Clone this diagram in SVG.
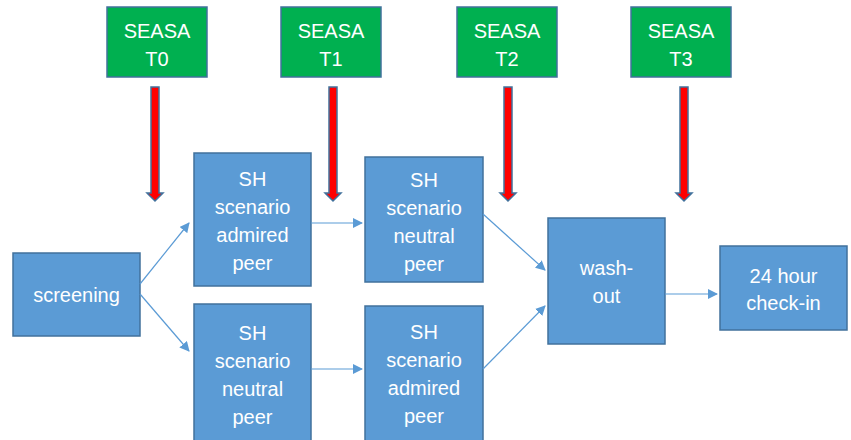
<svg xmlns="http://www.w3.org/2000/svg" width="851" height="440" viewBox="0 0 851 440">
<style>
.box{fill:#5B9BD5;stroke:#41719C;stroke-width:1.5}
.gbox{fill:#00B050;stroke:#41719C;stroke-width:1.5}
.t{font-family:"Liberation Sans",Arial,sans-serif;font-size:20px;fill:#fff;text-anchor:middle}
.c{stroke:#5B9BD5;stroke-width:1.2;fill:none;marker-end:url(#ah)}
.red{fill:#FF0000;stroke:#41719C;stroke-width:1.5}
</style>
<defs>
<marker id="ah" markerWidth="10" markerHeight="10" refX="9" refY="5" orient="auto" markerUnits="userSpaceOnUse" viewBox="0 0 10 10">
<path d="M0,0 L10,5 L0,10 Z" fill="#5B9BD5"/>
</marker>
</defs>
<rect width="851" height="440" fill="#fff"/>
<g id="seasa-t0"><rect class="gbox" x="107" y="7" width="100" height="70"/><text class="t" x="157" y="38">SEASA</text><text class="t" x="157" y="66">T0</text></g>
<g id="seasa-t1"><rect class="gbox" x="281" y="7" width="100" height="70"/><text class="t" x="331" y="38">SEASA</text><text class="t" x="331" y="66">T1</text></g>
<g id="seasa-t2"><rect class="gbox" x="457" y="7" width="100" height="70"/><text class="t" x="507" y="38">SEASA</text><text class="t" x="507" y="66">T2</text></g>
<g id="seasa-t3"><rect class="gbox" x="631" y="7" width="100" height="70"/><text class="t" x="681" y="38">SEASA</text><text class="t" x="681" y="66">T3</text></g>
<g id="screening"><rect class="box" x="13" y="253" width="127" height="83"/><text class="t" x="76.5" y="302">screening</text></g>
<g id="sh-admired-1"><rect class="box" x="194" y="153" width="117" height="133"/><text class="t" x="252.5" y="186">SH</text><text class="t" x="252.5" y="214">scenario</text><text class="t" x="252.5" y="242">admired</text><text class="t" x="252.5" y="270">peer</text></g>
<g id="sh-neutral-1"><rect class="box" x="194" y="304" width="117" height="140"/><text class="t" x="252.5" y="340">SH</text><text class="t" x="252.5" y="368">scenario</text><text class="t" x="252.5" y="396">neutral</text><text class="t" x="252.5" y="424">peer</text></g>
<g id="sh-neutral-2"><rect class="box" x="365" y="157" width="118" height="125"/><text class="t" x="424" y="187">SH</text><text class="t" x="424" y="215">scenario</text><text class="t" x="424" y="243">neutral</text><text class="t" x="424" y="271">peer</text></g>
<g id="sh-admired-2"><rect class="box" x="365" y="306" width="118" height="138"/><text class="t" x="424" y="339">SH</text><text class="t" x="424" y="367">scenario</text><text class="t" x="424" y="395">admired</text><text class="t" x="424" y="423">peer</text></g>
<g id="washout"><rect class="box" x="548" y="218" width="117" height="126"/><text class="t" x="606.5" y="275">wash-</text><text class="t" x="606.5" y="303">out</text></g>
<g id="checkin"><rect class="box" x="720" y="246" width="127" height="84"/><text class="t" x="783.5" y="283">24 hour</text><text class="t" x="783.5" y="310">check-in</text></g>
<g id="connectors">
<path class="c" d="M140,284 L189,223"/>
<path class="c" d="M140,294 L189,351"/>
<path class="c" d="M311,223 L362,223"/>
<path class="c" d="M311,369 L362,369"/>
<path class="c" d="M483,214 L545,270"/>
<path class="c" d="M483,369 L545,306"/>
<path class="c" d="M665,294 L717,294"/>
<g id="red-arrows">
<path class="red" d="M151,87 H159 V193 H163 L155,201 L147,193 H151 Z"/>
<path class="red" d="M329,87 H337 V193 H341 L333,201 L325,193 H329 Z"/>
<path class="red" d="M504,87 H512 V193 H516 L508,201 L500,193 H504 Z"/>
<path class="red" d="M680,87 H688 V193 H692 L684,201 L676,193 H680 Z"/>
</g>
</g>
</svg>
